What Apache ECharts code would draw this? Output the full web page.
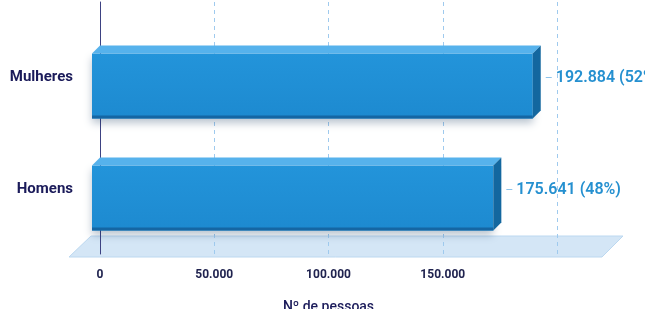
<!DOCTYPE html>
<html>
<head>
<meta charset="utf-8">
<script src="https://cdn.jsdelivr.net/npm/echarts@6/dist/echarts.min.js"></script>
<style>
html,body{margin:0;padding:0;background:#ffffff;}
#c{width:645px;height:309px;}
</style>
</head>
<body>
<div id="c"></div>
<script>
var categories = ['Mulheres', 'Homens'];
var values = [192884, 175641];
var percents = ['52%', '48%'];
var xTicks = [0, 50000, 100000, 150000, 200000];
var axisTitle = 'Nº de pessoas';

function fmt(n) {
  return String(n).replace(/\B(?=(\d{3})+(?!\d))/g, '.');
}

var chart = echarts.init(document.getElementById('c'), null, {renderer: 'canvas'});

var seriesData = values.map(function (v, i) { return [v, i]; });

var DEPTH = 8;
var FRONT_H = 65;

function renderItem(params, api) {
  var idx = api.value(1);
  var v = api.value(0);
  var end = api.coord([v, idx]);
  var start = api.coord([0, idx]);
  var cy = end[1];
  var x0 = start[0] - DEPTH;
  var x1 = end[0] - DEPTH;
  var top = cy - FRONT_H / 2;
  var bot = cy + FRONT_H / 2;
  var ly = cy - 8.5;
  return {
    type: 'group',
    children: [
      { type: 'rect', shape: { x: x0, y: top, width: x1 - x0, height: FRONT_H },
        style: { fill: new echarts.graphic.LinearGradient(0, 0, 0, 1, [
            { offset: 0, color: '#2394da' }, { offset: 1, color: '#1d8ad0' }]),
          shadowColor: 'rgba(0,40,80,0.28)', shadowBlur: 8, shadowOffsetY: 4 } },
      { type: 'rect', shape: { x: x0, y: bot - 3, width: x1 - x0, height: 3 },
        style: { fill: '#1566a3' } },
      { type: 'polygon', shape: { points: [[x0, top], [x0 + DEPTH, top - DEPTH], [x1 + DEPTH, top - DEPTH], [x1, top]] },
        style: { fill: '#56b2ec' } },
      { type: 'polygon', shape: { points: [[x1, top], [x1 + DEPTH, top - DEPTH], [x1 + DEPTH, bot - DEPTH], [x1, bot]] },
        style: { fill: '#13679f' } },
      { type: 'line', shape: { x1: x1 + DEPTH + 5, y1: ly, x2: x1 + DEPTH + 11, y2: ly },
        style: { stroke: '#8ec3ea', lineWidth: 1 } },
      { type: 'text', x: x1 + DEPTH + 15, y: ly,
        style: { text: fmt(values[idx]) + ' (' + percents[idx] + ')', fill: '#2590d0',
          font: '600 16px Roboto, "Noto Sans", sans-serif', textAlign: 'left', textVerticalAlign: 'middle' } },
      { type: 'text', x: start[0] - 27, y: ly,
        style: { text: categories[idx], fill: '#1b1b5a',
          font: 'bold 15px Roboto, "Noto Sans", sans-serif', textAlign: 'right', textVerticalAlign: 'middle' } }
    ]
  };
}

chart.setOption({
  animation: false,
  backgroundColor: '#ffffff',
  grid: { left: 100, right: 88, top: 2, bottom: 55, containLabel: false, outerBoundsMode: 'none' },
  xAxis: {
    type: 'value',
    min: xTicks[0],
    max: xTicks[xTicks.length - 1],
    interval: xTicks[1] - xTicks[0],
    axisLine: { show: false },
    axisTick: { show: false },
    splitLine: { show: true, lineStyle: { color: '#9fcaee', type: [4, 4], width: 1 } },
    axisLabel: {
      margin: 15,
      color: '#20234f',
      fontFamily: 'Roboto, "Noto Sans", sans-serif',
      fontWeight: 'bold',
      fontSize: 12,
      showMaxLabel: false,
      formatter: function (v) { return v >= xTicks[xTicks.length - 1] ? '' : fmt(v); }
    },
    name: axisTitle,
    nameLocation: 'middle',
    nameGap: 46,
    nameTextStyle: { color: '#1b1b5a', fontSize: 14, fontWeight: 500, fontFamily: 'Roboto, "Noto Sans", sans-serif' }
  },
  yAxis: {
    type: 'value',
    inverse: true,
    min: -0.75,
    max: 1.5,
    interval: 0.25,
    axisLine: { show: true, onZero: true, lineStyle: { color: '#3d4282', width: 1 } },
    axisTick: { show: false },
    axisLabel: { show: false },
    splitLine: { show: false }
  },
  graphic: [
    { type: 'polygon', z: -10, silent: true,
      shape: { points: [[69, 257], [91, 236], [623, 236], [602, 257]] },
      style: { fill: '#d4e6f6', stroke: '#bcd8f0', lineWidth: 1 } }
  ],
  series: [
    { type: 'custom', renderItem: renderItem, data: seriesData, clip: false, z: 5,
      encode: { x: 0, y: 1 } }
  ]
});
</script>
</body>
</html>
